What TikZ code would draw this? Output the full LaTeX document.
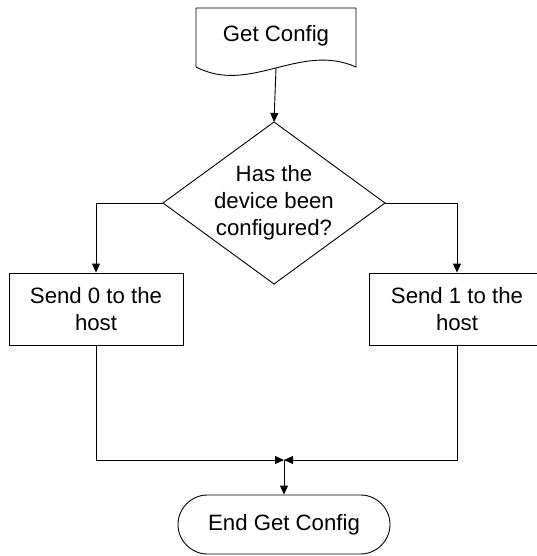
\documentclass[tikz,border=0pt]{standalone}
\usepackage{fontspec}
\setmainfont{Liberation Sans}
\usetikzlibrary{arrows.meta,shapes.misc}
\begin{document}
\begin{tikzpicture}[x=1pt,y=1pt,
  line width=0.9pt,
  lbl/.style={font=\fontsize{22.2}{27}\selectfont, align=center, inner sep=0pt},
  procbox/.style={draw, rectangle, minimum height=72pt, inner sep=0pt,
    font=\fontsize{22.2}{27}\selectfont, align=center},
  termbox/.style={draw, rounded rectangle, minimum width=212pt, minimum height=59pt,
    inner sep=0pt, font=\fontsize{22.2}{27}\selectfont},
  flow/.style={-{Triangle[length=9pt,width=8pt]}},
]
\useasboundingbox (0,0) rectangle (537,-556);
\clip (0,0) rectangle (537,-556);

% start: document shape with wavy bottom edge
\draw (196,-67) -- (196,-8) -- (356,-8) -- (356,-67)
      .. controls (300,-42) and (250,-95) .. (196,-67) -- cycle;
\node[lbl] (start) at (276,-36) {Get Config};
\coordinate (startout) at (276,-68);

% decision diamond
\coordinate (dT) at (274,-122);
\coordinate (dR) at (385,-203);
\coordinate (dB) at (274,-284);
\coordinate (dL) at (163,-203);
\draw (dT) -- (dR) -- (dB) -- (dL) -- cycle;
\node[lbl] (ask) at (274,-203) {Has the\\device been\\configured?};

% process boxes
\node[procbox, minimum width=174pt] (send0) at (96,-309) {Send 0 to the\\host};
\node[procbox, minimum width=176pt] (send1) at (457,-309) {Send 1 to the\\host};

% terminal
\node[termbox] (done) at (284,-524.5) {End Get Config};
\coordinate (join) at (284,-460);

% connectors
\draw[flow] (startout) -- (dT);
\draw[flow] (dL) -| (send0.north);
\draw[flow] (dR) -| (send1.north);
\draw[flow] (send0.south) |- (join);
\draw[flow] (send1.south) |- (join);
\draw[flow] (join) -- (done.north);
\end{tikzpicture}
\end{document}
